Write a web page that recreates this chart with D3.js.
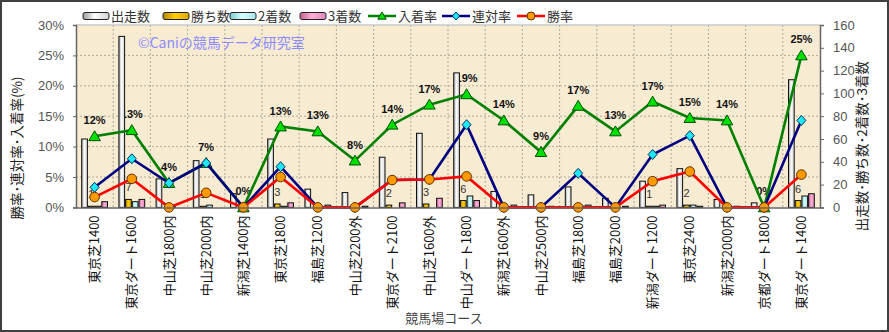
<!DOCTYPE html>
<html><head><meta charset="utf-8">
<script src="https://cdn.jsdelivr.net/npm/d3@7/dist/d3.min.js"></script>
<style>
html,body{margin:0;padding:0;background:#fff;}
svg{display:block;}
</style></head>
<body>
<svg id="chart" width="889" height="332"></svg>
<script>
const courses = ["東京芝1400","東京ダート1600","中山芝1800内","中山芝2000内","新潟芝1400内","東京芝1800","福島芝1200","中山芝2200外","東京ダート2100","中山芝1600外","中山ダート1800","新潟芝1600外","中山芝2500内","福島芝1800","福島芝2000","新潟ダート1200","東京芝2400","新潟芝2000内","京都ダート1800","東京ダート1400"];
const starts  = [60,150,25,41,12,60,16,13,44,65,118,14,11,18,8,23,34,7,4,112];
const wins    = [1,7,0,1,0,3,0,0,2,3,6,0,0,0,0,1,2,0,0,6];
const seconds = [1,5,1,2,0,1,0,0,0,0,10,0,0,1,0,1,2,0,0,10];
const thirds  = [5,7,0,0,0,4,2,1,4,8,6,2,1,2,1,2,1,1,0,12];
const placeRate = [11.7,12.7,4.0,7.3,0,13.3,12.5,7.7,13.6,16.9,18.6,14.3,9.1,16.7,12.5,17.4,14.7,14.3,0,25.0];
const quinellaRate = [3.3,8.0,4.0,7.3,0,6.7,0,0,4.5,4.6,13.6,0,0,5.6,0,8.7,11.8,0,0,14.3];
const winRate = [1.7,4.7,0,2.4,0,5.0,0,0,4.5,4.6,5.1,0,0,0,0,4.3,5.9,0,0,5.4];
const placeLabels = ["12%","13%","4%","7%","0%","13%","13%","8%","14%","17%","19%","14%","9%","17%","13%","17%","15%","14%","0%","25%"];
const leftTicks = [0,5,10,15,20,25,30];
const rightTicks = [0,20,40,60,80,100,120,140,160];

const svg = d3.select("#chart");
const L = 76, R = 820, T = 25, B = 207.4;
const JP = "'Noto Sans CJK JP','Noto Sans',sans-serif";
const LAT = "'Liberation Sans',Arial,sans-serif";

const defs = svg.append("defs");
function grad(id, c0, c1, c2){
  const g = defs.append("linearGradient").attr("id", id).attr("x1","0").attr("x2","1").attr("y1","0").attr("y2","0");
  g.append("stop").attr("offset","0").attr("stop-color",c0);
  g.append("stop").attr("offset","0.45").attr("stop-color",c1);
  g.append("stop").attr("offset","1").attr("stop-color",c2);
}
grad("gStart","#9a9a9a","#ffffff","#d0d0d0");
grad("gWin","#b08000","#ffd000","#d8a800");
grad("gSec","#7cc8cc","#d8ffff","#a8e4e8");
grad("gThi","#c06090","#ffb0d8","#e088b8");

// outer frame
svg.append("rect").attr("x",1).attr("y",1).attr("width",887).attr("height",330)
  .attr("fill","#fff").attr("stroke","#404040").attr("stroke-width",2);

const x = d3.scaleBand().domain(courses).range([L,R]).padding(0);
const bw = x.bandwidth();
const keys = ["starts","wins","seconds","thirds"];
const x1 = d3.scaleBand().domain(keys).range([5.2, bw-5.2]).padding(0);
const yL = d3.scaleLinear().domain([0,30]).range([B,T]);
const yR = d3.scaleLinear().domain([0,160]).range([B,T]);

// plot background
svg.append("rect").attr("x",L).attr("y",T).attr("width",R-L).attr("height",B-T).attr("fill","#f7ebd2");

// gridlines
const grid = svg.append("g").attr("stroke","#a09a90").attr("stroke-width",0.8).attr("stroke-dasharray","2,2");
leftTicks.slice(1,-1).forEach(v=>{
  grid.append("line").attr("x1",L).attr("x2",R).attr("y1",yL(v)).attr("y2",yL(v));
});
courses.slice(1).forEach(c=>{
  grid.append("line").attr("x1",x(c)).attr("x2",x(c)).attr("y1",T).attr("y2",B);
});
svg.append("line").attr("x1",L).attr("x2",R).attr("y1",T).attr("y2",T).attr("stroke","#c8c8c8").attr("stroke-width",1.5);

// watermark
svg.append("text").attr("x",138).attr("y",48).attr("font-family",JP).attr("font-size",14)
  .attr("fill","#8c8cff").text("©Caniの競馬データ研究室");

// place rate labels
svg.append("g").selectAll("text").data(courses).join("text")
  .attr("x",d=>x(d)+bw/2).attr("y",(d,i)=>yL(placeRate[i])-12)
  .attr("text-anchor","middle").attr("font-family",LAT).attr("font-weight","bold")
  .attr("font-size",11).attr("fill","#111").text((d,i)=>placeLabels[i]);

// wins count labels
svg.append("g").selectAll("text").data(courses.filter((c,i)=>wins[i]>0)).join("text")
  .attr("x",d=>x(d)+x1("wins")+x1.bandwidth()/2)
  .attr("y",d=>yR(wins[courses.indexOf(d)])-8)
  .attr("text-anchor","middle").attr("font-family",LAT).attr("font-size",11).attr("fill","#333")
  .text(d=>wins[courses.indexOf(d)]);

// bars
const series = {starts, wins, seconds, thirds};
const fills = {starts:"url(#gStart)", wins:"url(#gWin)", seconds:"url(#gSec)", thirds:"url(#gThi)"};
const barG = svg.append("g");
keys.forEach(k=>{
  barG.append("g").selectAll("rect").data(courses).join("rect")
    .attr("x",d=>x(d)+x1(k)+0.5)
    .attr("width",x1.bandwidth()-1)
    .attr("y",(d,i)=>yR(series[k][i]))
    .attr("height",(d,i)=>B-yR(series[k][i]))
    .attr("fill",fills[k]).attr("stroke","#111").attr("stroke-width",1);
});

// lines
function drawLine(vals, color, markerFn){
  const line = d3.line().x((d,i)=>x(courses[i])+bw/2).y(d=>yL(d));
  svg.append("path").datum(vals).attr("d",line).attr("fill","none").attr("stroke",color).attr("stroke-width",2.6);
  const g = svg.append("g");
  vals.forEach((v,i)=>markerFn(g, x(courses[i])+bw/2, yL(v)));
}
function tri(g,cx,cy,s){ s=s||5.5; g.append("path").attr("d",`M${cx},${cy-s}L${cx+s*1.05},${cy+s*0.8}L${cx-s*1.05},${cy+s*0.8}Z`).attr("fill","#00e000").attr("stroke","#005000").attr("stroke-width",1); }
function dia(g,cx,cy,s){ s=s||5; g.append("path").attr("d",`M${cx},${cy-s}L${cx+s*0.9},${cy}L${cx},${cy+s}L${cx-s*0.9},${cy}Z`).attr("fill","#20e8f8").attr("stroke","#003060").attr("stroke-width",1); }
function circ(g,cx,cy,r){ r=r||4.8; g.append("circle").attr("cx",cx).attr("cy",cy).attr("r",r).attr("fill","#ff9900").attr("stroke","#603000").attr("stroke-width",1); }
drawLine(placeRate,"#008000",tri);
drawLine(quinellaRate,"#000080",dia);
drawLine(winRate,"#ff0000",circ);

// axes
const axL = svg.append("g").attr("transform",`translate(${L},0)`)
  .call(d3.axisLeft(yL).tickValues(leftTicks).tickFormat(d=>d+"%").tickSize(3).tickPadding(9));
const axR = svg.append("g").attr("transform",`translate(${R},0)`)
  .call(d3.axisRight(yR).tickValues(rightTicks).tickSize(4).tickPadding(9));
[axL,axR].forEach(a=>{
  a.select(".domain").attr("stroke","#666").attr("stroke-width",1.5);
  a.selectAll(".tick line").attr("stroke","#666");
  a.selectAll("text").attr("font-family",LAT).attr("font-size",13).attr("fill","#555");
});
const axB = svg.append("g").attr("transform",`translate(0,${B})`)
  .call(d3.axisBottom(x).tickSize(0).tickPadding(0));
axB.select(".domain").attr("stroke","#666").attr("stroke-width",1.5);
axB.selectAll("text").attr("font-family",JP).attr("font-size",13).attr("fill","#111")
  .attr("text-anchor","end").attr("dy",null)
  .attr("transform","translate(4.5,8) rotate(-90)")
  .attr("y",0).attr("x",0);

// axis titles
svg.append("text").attr("transform","translate(22,148) rotate(-90)").attr("text-anchor","middle")
  .attr("font-family",JP).attr("font-size",13.5).attr("fill","#222").text("勝率･連対率･入着率(%)");
svg.append("text").attr("transform","translate(867,146) rotate(-90)").attr("text-anchor","middle")
  .attr("font-family",JP).attr("font-size",13.5).attr("fill","#222").text("出走数･勝ち数･2着数･3着数");
svg.append("text").attr("x",444).attr("y",323).attr("text-anchor","middle")
  .attr("font-family",JP).attr("font-size",13).attr("fill","#444").text("競馬場コース");

// legend
const lg = svg.append("g").attr("font-family",JP).attr("font-size",13).attr("fill","#333");
const barLeg = [["出走数","url(#gStart)",83],["勝ち数","url(#gWin)",163],["2着数","url(#gSec)",230],["3着数","url(#gThi)",300]];
barLeg.forEach(([t,f,x0])=>{
  lg.append("rect").attr("x",x0).attr("y",12.5).attr("width",26).attr("height",7).attr("rx",2)
    .attr("fill",f).attr("stroke","#222").attr("stroke-width",1);
  lg.append("text").attr("x",x0+28).attr("y",21).text(t);
});
const lineLeg = [["入着率","#008000",368,tri],["連対率","#000080",442,dia],["勝率","#ff0000",517,circ]];
lineLeg.forEach(([t,c,x0,fn])=>{
  lg.append("line").attr("x1",x0).attr("x2",x0+28).attr("y1",16).attr("y2",16).attr("stroke",c).attr("stroke-width",2.5);
  fn(lg, x0+14, 16, 4);
  lg.append("text").attr("x",x0+30).attr("y",21).text(t);
});
</script>
</body></html>
